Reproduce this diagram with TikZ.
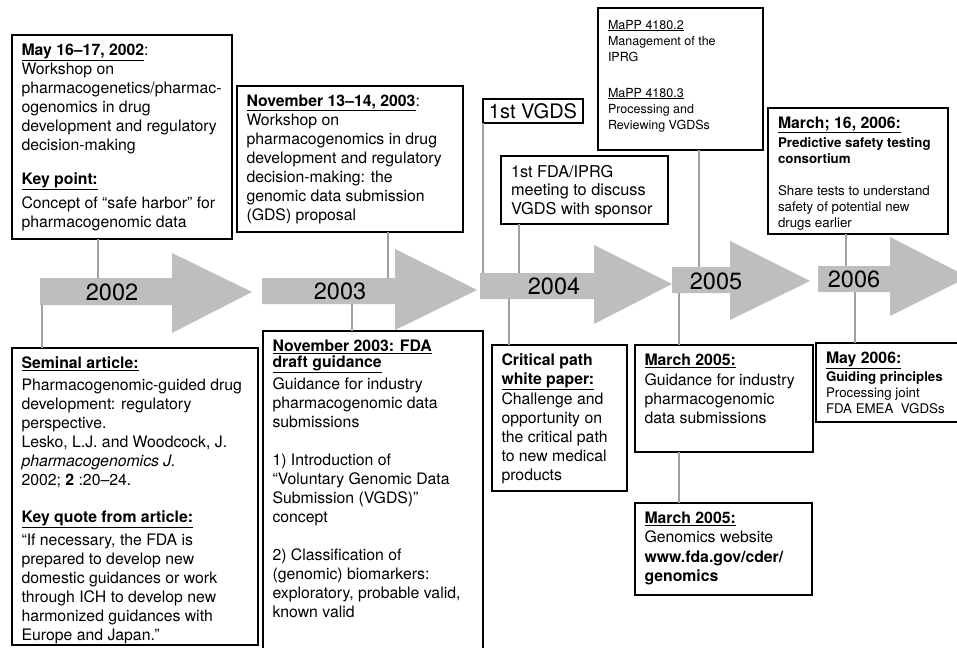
\documentclass[tikz,border=0pt]{standalone}
\usepackage{fontspec}
\setmainfont{TeX Gyre Heros}
\definecolor{arrowgray}{RGB}{190,190,190}
\definecolor{linkgray}{RGB}{160,160,160}
\newcommand{\bigsize}{\fontsize{15.8}{19}\selectfont}
\newcommand{\smallsize}{\fontsize{13.3}{16}\selectfont}
\newcommand{\evtext}[3]{\parbox[t][#2pt][t]{#1pt}{\raggedright\tolerance=9999\hyphenpenalty=10000\exhyphenpenalty=10000 #3}}
\newcommand{\evhead}[1]{\textbf{\underline{#1}}}

\begin{document}
\begin{tikzpicture}[x=1pt,y=-1pt]
\tikzset{
  evbox/.style={draw, line width=1.6pt, fill=white, anchor=north west, outer sep=0pt,
    inner xsep=9.5pt, inner ysep=9pt, font=\bigsize},
  smallbox/.style={evbox, inner xsep=10pt, font=\smallsize},
  yearlabel/.style={font=\fontsize{23.5}{26}\selectfont, inner sep=0pt},
  yeararrow/.style={fill=arrowgray},
  link/.style={draw=linkgray, line width=1.4pt}
}
\useasboundingbox (0,0) rectangle (957,647);
\clip (0,0) rectangle (957,647);
\foreach \xa/\xb/\xc/\ys/\yt/\yh/\yk/\ym in {40/172/252/278/305/253/333/292,
    262/395/477/278/304/249/330/290, 480/594/672/273/299/245/324/284,
    672/730/810/267/293/241/320/281, 818/890/968/266/292/237/316/277}
  \fill[yeararrow] (\xa,\ys) -- (\xb,\ys) -- (\xb,\yh) -- (\xc,\ym) -- (\xb,\yk) -- (\xb,\yt) -- (\xa,\yt) -- cycle;
\node[yearlabel] (y2002) at (112,292) {2002};
\node[yearlabel] (y2003) at (340,291) {2003};
\node[yearlabel] (y2004) at (554,286) {2004};
\node[yearlabel] (y2005) at (716,281) {2005};
\node[yearlabel] (y2006) at (854,279) {2006};
\coordinate (s02t) at (98,278);
\coordinate (s02b) at (42,305);
\coordinate (s03t) at (388,278);
\coordinate (s03b) at (352,304);
\coordinate (s04a) at (483,273);
\coordinate (s04t) at (519,273);
\coordinate (s04b) at (509,299);
\coordinate (s05t) at (699,267);
\coordinate (s05b) at (679,293);
\coordinate (s06t) at (846,266);
\coordinate (s06b) at (855,292);
\node[evbox] (may02) at (12,35) {\evtext{201}{186}{\evhead{May 16--17, 2002}:\\Workshop on\\pharmacogenetics/pharmac-\\ogenomics in drug\\development and regulatory\\decision-making\\[15pt]\evhead{Key point:}\\[5pt]Concept of “safe harbor” for\\pharmacogenomic data}};
\node[evbox] (nov03) at (237,86) {\evtext{207}{128}{\evhead{November 13--14, 2003}:\\Workshop on\\pharmacogenomics in drug\\development and regulatory\\decision-making: the\\genomic data submission\\(GDS) proposal}};
\node[draw, line width=1.6pt, fill=white, outer sep=0pt, inner sep=0pt, minimum width=100pt, minimum height=24pt,
  font=\fontsize{20}{22}\selectfont] (vgds) at (533,111) {1st VGDS};
\node[evbox, inner xsep=10pt, font=\fontsize{16.3}{18.5}\selectfont] (iprg) at (501,156) {\evtext{147}{50}{1st FDA/IPRG\\meeting to discuss\\VGDS with sponsor}};
\node[evbox, inner xsep=10pt, inner ysep=12pt, font=\fontsize{12.5}{16}\selectfont] (mapp) at (598,8) {\evtext{145}{118}{\underline{MaPP 4180.2}\\Management of the\\IPRG\\[20pt]\underline{MaPP 4180.3}\\Processing and\\Reviewing VGDSs}};
\node[smallbox] (mar06) at (768,108) {\evtext{160}{108}{{\bigsize\evhead{March; 16, 2006:}}\\[3pt]\textbf{Predictive safety testing}\\\textbf{consortium}\\[16pt]Share tests to understand\\safety of potential new\\drugs earlier}};
\node[evbox] (lesko) at (12,348) {\evtext{227}{279}{\evhead{Seminal article:}\\[3pt]Pharmacogenomic-guided drug\\development: regulatory\\perspective.\\Lesko, L.J. and Woodcock, J.\\\textit{pharmacogenomics J.}\\2002; \textbf{2} :20--24.\\[18pt]\evhead{Key quote from article:}\\[4pt]“If necessary, the FDA is\\prepared to develop new\\domestic guidances or work\\through ICH to develop new\\harmonized guidances with\\Europe and Japan.”}};
\node[evbox] (draft03) at (263,331) {\evtext{201}{311}{\evhead{November 2003: FDA}\\[-3pt]\evhead{draft guidance}\\[3pt]Guidance for industry\\pharmacogenomic data\\submissions\\[19pt]1) Introduction of\\“Voluntary Genomic Data\\Submission (VGDS)”\\concept\\[19pt]2) Classification of\\(genomic) biomarkers:\\exploratory, probable valid,\\known valid}};
\node[evbox] (critpath) at (492,345) {\evtext{116}{128}{\textbf{Critical path}\\\evhead{white paper:}\\[1pt]Challenge and\\opportunity on\\the critical path\\to new medical\\products}};
\node[evbox] (mar05g) at (635,345) {\evtext{159}{89}{\evhead{March 2005:}\\[1pt]Guidance for industry\\pharmacogenomic\\data submissions}};
\node[evbox] (mar05w) at (635,503) {\evtext{158}{74}{\evhead{March 2005:}\\Genomics website\\[1pt]\textbf{www.fda.gov/cder/}\\\textbf{genomics}}};
\node[smallbox, inner ysep=9pt] (may06) at (816,343) {\evtext{130}{61}{{\bigsize\evhead{May 2006:}}\\[1.5pt]\textbf{Guiding principles}\\Processing joint\\FDA EMEA\ \ VGDSs}};
\draw[link] (s02t |- may02.south) -- (s02t);
\draw[link] (s03t |- nov03.south) -- (s03t);
\draw[link] (s04a |- vgds.south) -- (s04a);
\draw[link] (s04t |- iprg.south) -- (s04t);
\draw[link] (s05t |- mapp.south) -- (s05t);
\draw[link] (s06t |- mar06.south) -- (s06t);
\draw[link] (s02b) -- (s02b |- lesko.north);
\draw[link] (s03b) -- (s03b |- draft03.north);
\draw[link] (s04b) -- (s04b |- critpath.north);
\draw[link] (s05b) -- (s05b |- mar05g.north);
\draw[link] (s05b |- mar05g.south) -- (s05b |- mar05w.north);
\draw[link] (s06b) -- (s06b |- may06.north);
\end{tikzpicture}
\end{document}
